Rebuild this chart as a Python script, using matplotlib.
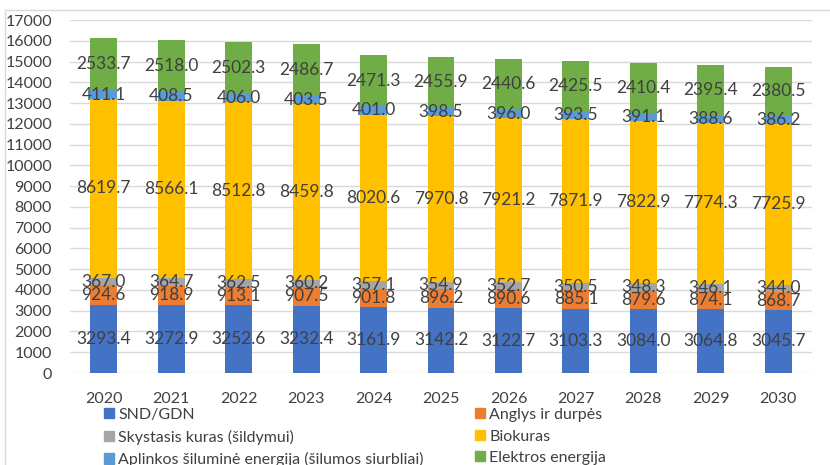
import numpy as np
import matplotlib.pyplot as plt
from matplotlib.patches import Rectangle, Patch

years = ['2020', '2021', '2022', '2023', '2024', '2025', '2026', '2027', '2028', '2029', '2030']
snd_gdn = [3293.4, 3272.9, 3252.6, 3232.4, 3161.9, 3142.2, 3122.7, 3103.3, 3084.0, 3064.8, 3045.7]
anglys = [924.6, 918.9, 913.1, 907.5, 901.8, 896.2, 890.6, 885.1, 879.6, 874.1, 868.7]
skystasis = [367.0, 364.7, 362.5, 360.2, 357.1, 354.9, 352.7, 350.5, 348.3, 346.1, 344.0]
biokuras = [8619.7, 8566.1, 8512.8, 8459.8, 8020.6, 7970.8, 7921.2, 7871.9, 7822.9, 7774.3, 7725.9]
aplinkos = [411.1, 408.5, 406.0, 403.5, 401.0, 398.5, 396.0, 393.5, 391.1, 388.6, 386.2]
elektros = [2533.7, 2518.0, 2502.3, 2486.7, 2471.3, 2455.9, 2440.6, 2425.5, 2410.4, 2395.4, 2380.5]

series = [
    ('SND/GDN', snd_gdn, '#4472C4'),
    ('Anglys ir durpės', anglys, '#ED7D31'),
    ('Skystasis kuras (šildymui)', skystasis, '#A5A5A5'),
    ('Biokuras', biokuras, '#FFC000'),
    ('Aplinkos šiluminė energija (šilumos siurbliai)', aplinkos, '#5B9BD5'),
    ('Elektros energija', elektros, '#70AD47'),
]

plt.rcParams['font.family'] = ['Lato', 'DejaVu Sans']
txt = '#404040'

fig = plt.figure(figsize=(8.3, 4.65), dpi=100)
ax = fig.add_axes([70 / 830, 92 / 465, 742 / 830, 353 / 465])

# chart-area frame
fig.patches.append(Rectangle((5 / 830, -0.1), 2, 1.1 - 10 / 465,
                             transform=fig.transFigure, fill=False,
                             edgecolor='#d9d9d9', linewidth=1))

x = np.arange(len(years))
bottom = np.zeros(len(years))
for name, vals, col in series:
    vals = np.array(vals)
    ax.bar(x, vals, 0.4, bottom=bottom, color=col, label=name, zorder=2)
    for xi, b, v in zip(x, bottom, vals):
        ax.text(xi, b + v / 2, f'{v:.1f}', ha='center', va='center',
                fontsize=12.5, color=txt, zorder=3)
    bottom += vals

ax.set_ylim(0, 17000)
ax.set_xlim(-0.5, len(years) - 0.5)
ax.set_yticks(range(0, 17001, 1000))
ax.set_xticks(x, years)
ax.grid(axis='y', color='#d9d9d9', linewidth=1, zorder=0)
ax.tick_params(length=0, labelsize=11.5, labelcolor=txt)
ax.tick_params(axis='y', pad=13)
ax.tick_params(axis='x', pad=14)
for s in ax.spines.values():
    s.set_visible(False)

# legend reads row by row: two columns, three rows
order = [0, 2, 4, 1, 3, 5]
handles = [Patch(color=series[i][2]) for i in order]
labels = [series[i][0] for i in order]
fig.legend(handles, labels, ncol=2, loc='upper left',
           bbox_to_anchor=(104 / 830, 1 - 408 / 465), frameon=False,
           fontsize=11.5, labelcolor=txt, handlelength=0.6, handleheight=0.6,
           handletextpad=0.3, columnspacing=3.2, labelspacing=0.47,
           borderaxespad=0, borderpad=0)

fig.savefig('out.png', dpi=100)
